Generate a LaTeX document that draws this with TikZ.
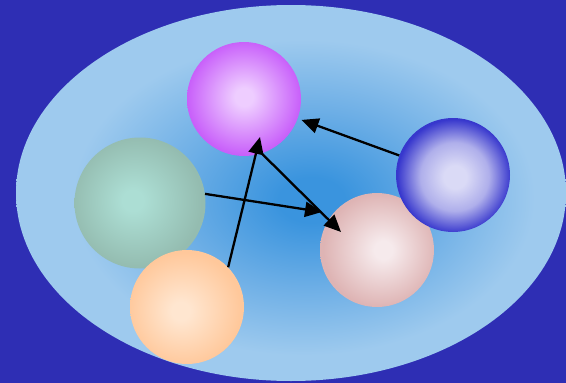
\documentclass[tikz,border=0pt]{standalone}
\usetikzlibrary{arrows.meta}
\definecolor{bg}{RGB}{46,46,180}
\definecolor{elIn}{RGB}{58,148,222}
\definecolor{elMid}{RGB}{110,175,230}
\definecolor{elOut}{RGB}{158,202,238}
\definecolor{pIn}{RGB}{238,205,255}
\definecolor{pOut}{RGB}{200,95,250}
\definecolor{gIn}{RGB}{172,222,212}
\definecolor{gOut}{RGB}{148,188,176}
\definecolor{oIn}{RGB}{255,230,208}
\definecolor{oOut}{RGB}{255,200,155}
\definecolor{kIn}{RGB}{246,234,236}
\definecolor{kOut}{RGB}{222,180,180}
\definecolor{bIn}{RGB}{218,218,246}
\definecolor{bMid}{RGB}{175,175,235}
\definecolor{bOut}{RGB}{55,55,205}
\pgfdeclareradialshading{ellsh}{\pgfpoint{2bp}{-1bp}}{color(0bp)=(elIn); color(3bp)=(elIn); color(12bp)=(elMid); color(21bp)=(elOut); color(50bp)=(elOut)}
\pgfdeclareradialshading{sphP}{\pgfpoint{0bp}{1bp}}{color(0bp)=(pIn); color(4bp)=(pIn); color(25bp)=(pOut); color(50bp)=(pOut)}
\pgfdeclareradialshading{sphG}{\pgfpoint{-3bp}{1bp}}{color(0bp)=(gIn); color(4bp)=(gIn); color(25bp)=(gOut); color(50bp)=(gOut)}
\pgfdeclareradialshading{sphO}{\pgfpoint{-3bp}{-2bp}}{color(0bp)=(oIn); color(4bp)=(oIn); color(25bp)=(oOut); color(50bp)=(oOut)}
\pgfdeclareradialshading{sphK}{\pgfpoint{3bp}{0bp}}{color(0bp)=(kIn); color(4bp)=(kIn); color(25bp)=(kOut); color(50bp)=(kOut)}
\pgfdeclareradialshading{sphB}{\pgfpoint{1bp}{-1bp}}{color(0bp)=(bIn); color(5bp)=(bIn); color(15bp)=(bMid); color(25bp)=(bOut); color(50bp)=(bOut)}
\begin{document}
\begin{tikzpicture}[x=1pt,y=-1pt,
  sph/.style={circle, inner sep=0pt, draw=none},
  arr/.style={line width=2.3pt, black, -{Triangle[length=17pt,width=15pt]}}]
\useasboundingbox (0,0) rectangle (566,383);
\fill[bg] (0,0) rectangle (566,383);
\path[shading=ellsh] (291,193) ellipse [x radius=275pt, y radius=188pt];
\node[sph, shading=sphP, minimum size=114pt] (purple) at (244,99) {};
\node[sph, shading=sphG, minimum size=131pt] (green) at (140,203) {};
\node[sph, shading=sphO, minimum size=114pt] (orange) at (187,307) {};
\node[sph, shading=sphK, minimum size=114pt] (pink) at (377,250) {};
\node[sph, shading=sphB, minimum size=114pt] (blue) at (453,175) {};
\coordinate (t2) at (322,212);
\coordinate (t3) at (260,137);
\coordinate (t4) at (341,232);
\draw[arr, shorten >=4pt] (blue) -- (purple);
\draw[arr] (green.8) -- (t2);
\draw[arr] (orange.44) -- (t3);
\draw[arr] (purple.-72) -- (t4);
\end{tikzpicture}
\end{document}
